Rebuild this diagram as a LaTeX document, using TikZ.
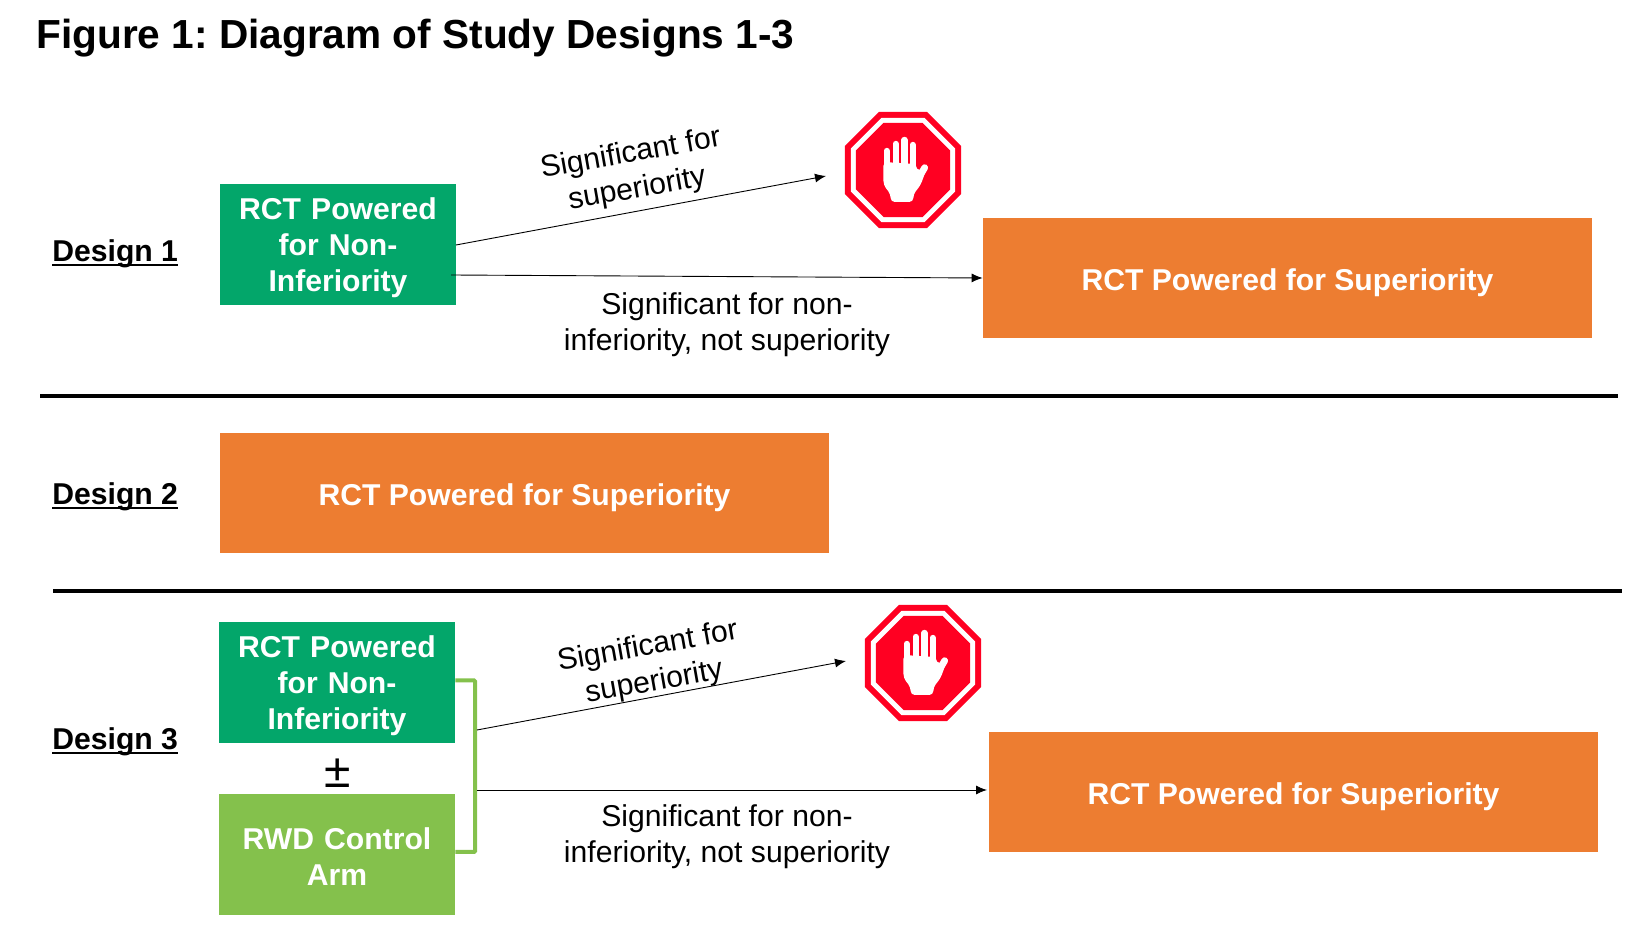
\documentclass[tikz,border=0pt]{standalone}
\usepackage{fontspec}
\setmainfont{Liberation Sans}
\frenchspacing
\usetikzlibrary{arrows.meta, positioning, shapes.geometric}
\definecolor{rctGreen}{HTML}{03A66A}
\definecolor{rwdGreen}{HTML}{84C14C}
\definecolor{supOrange}{HTML}{ED7D31}
\definecolor{stopRed}{HTML}{FF0022}
\newcommand{\boxfont}{\fontsize{15.07}{18}\selectfont\bfseries}
\newcommand{\labelfont}{\fontsize{15.07}{18}\selectfont}
\newcommand{\designlabel}[1]{\setbox0=\hbox{#1}\rlap{\rule[-2.2pt]{\wd0}{1pt}}\box0}
\tikzset{
  octagon/.style={regular polygon, regular polygon sides=8, inner sep=0pt, draw=none},
  pics/stopsign/.style={code={
    \node[octagon, fill=stopRed, minimum size=62.8pt] (-outer) at (0,0) {};
    \node[octagon, fill=white, minimum size=56.3pt] (-ring) at (0,0) {};
    \node[octagon, fill=stopRed, minimum size=50.9pt] (-inner) at (0,0) {};
    % hand
    \fill[white, rounded corners=2pt] (-19.7,-8) -- (-19.5,15) -- (-12.3,24.3) -- (-12.3,32) -- (10.3,32) -- (10.3,24.3) -- (17.7,15) -- (23,0) -- (13,0) -- (13,-6) -- cycle;
    \foreach \fx/\fy in {-16.3/-19, -7.3/-26, 1.3/-30, 9.7/-25}
      \draw[white, line width=3.2pt, line cap=round] (\fx,\fy) -- (\fx,0);
    \draw[white, line width=3.4pt, line cap=round] (15.7,7.7) -- (21.7,-2.3);
  }}
}
\begin{document}
\begin{tikzpicture}[
    x=0.5pt, y=-0.5pt,
    rctbox/.style={fill=rctGreen, minimum width=118pt, minimum height=60.5pt, text=white, font=\boxfont, align=center, inner sep=0pt, text width=112pt},
    rwdbox/.style={rctbox, fill=rwdGreen},
    supbox/.style={fill=supOrange, minimum width=304.5pt, minimum height=60pt, text=white, font=\boxfont, align=center, inner sep=0pt, text height=13pt, text depth=0pt},
    design/.style={anchor=base west, font=\boxfont, inner sep=0pt},
    cond/.style={font=\labelfont, align=center, inner sep=0pt},
    arr/.style={-{Latex[length=5.5pt, width=4.5pt]}, draw=black, line width=0.45pt},
    rule/.style={draw=black, line width=2pt},
    brk/.style={draw=rwdGreen, line width=2pt, rounded corners=0.5pt}
  ]
  \useasboundingbox (0,0) rectangle (1640,940);
  \node[anchor=base west, font=\fontsize{20.3}{24}\selectfont\bfseries, inner sep=0pt] (title) at (36,49) {Figure 1: Diagram of Study Designs 1-3};

  % design 1
  \node[design] (d1) at (52,262) {\designlabel{Design 1}};
  \node[rctbox] (rct1) at (338,245) {\rule{0pt}{14pt}RCT Powered\\for Non-\\Inferiority};
  \node[supbox] (sup1) at (1287.5,278) {RCT Powered for Superiority};
  \pic (stop1) at (903,170) {stopsign};
  \coordinate (s1a) at (456,245);
  \coordinate (s1b) at (826,176);
  \coordinate (n1a) at (451,275);
  \draw[arr] (s1a) -- (s1b);
  \draw[arr] (n1a) -- (sup1.west);
  \node[cond, rotate=10] (sig1) at (634,172) {Significant for\\superiority};
  \node[cond] (non1) at (727,325) {Significant for non-\\inferiority, not superiority};

  \node (r1a) at (39,396) [inner sep=0pt] {};
  \node (r1b) at (1619,396) [inner sep=0pt] {};
  \draw[rule] (r1a) -- (r1b);

  % design 2
  \node[design] (d2) at (52,505) {\designlabel{Design 2}};
  \node[supbox] (sup2) at (524.5,493) {RCT Powered for Superiority};

  \node (r2a) at (52,591) [inner sep=0pt] {};
  \node (r2b) at (1623,591) [inner sep=0pt] {};
  \draw[rule] (r2a) -- (r2b);

  % design 3
  \node[design] (d3) at (52,750) {\designlabel{Design 3}};
  \node[rctbox] (rct3) at (337,682.5) {\rule{0pt}{14pt}RCT Powered\\for Non-\\Inferiority};
  \node[rwdbox] (rwd) at (337,855) {\rule{0pt}{12pt}RWD Control\\Arm};
  \node[font=\fontsize{24}{26}\selectfont, inner sep=0pt] (pm) at (338,773) {±};
  \node[supbox] (sup3) at (1293.5,792) {RCT Powered for Superiority};
  \pic (stop3) at (923,663) {stopsign};
  \coordinate (bk) at (475,770);
  \draw[brk] ([yshift=1pt]rct3.east) -| (bk) |- ([yshift=1.5pt]rwd.east);
  \coordinate (s3a) at (477,730);
  \coordinate (s3b) at (846,661);
  \coordinate (n3a) at (477,790);
  \coordinate (n3b) at (987,790);
  \draw[arr] (s3a) -- (s3b);
  \draw[arr] (n3a) -- (n3b);
  \node[cond, rotate=10] (sig3) at (651,665) {Significant for\\superiority};
  \node[cond] (non3) at (727,837) {Significant for non-\\inferiority, not superiority};
\end{tikzpicture}
\end{document}
